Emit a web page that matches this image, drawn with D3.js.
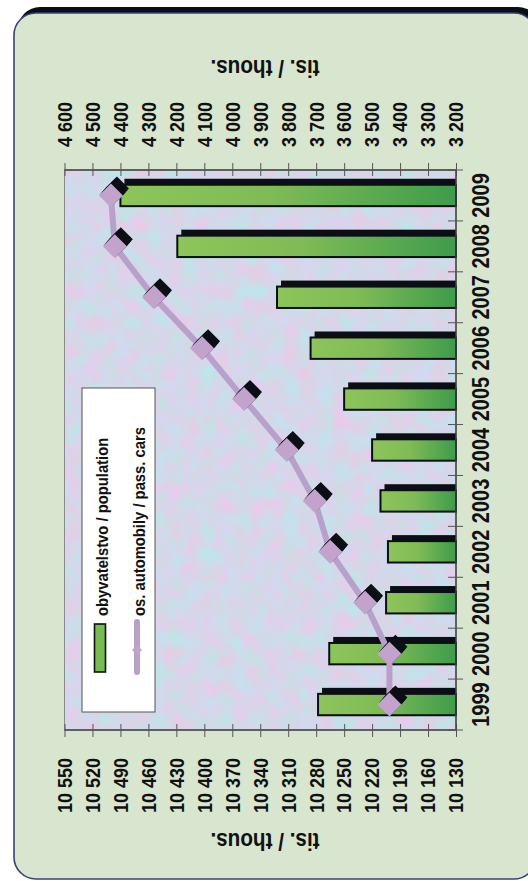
<!DOCTYPE html>
<html>
<head>
<meta charset="utf-8">
<script src="https://cdn.jsdelivr.net/npm/d3@7"></script>
<style>
  html, body { margin: 0; padding: 0; background: #ffffff; }
  svg { display: block; }
  text { font-family: "Liberation Sans", Arial, sans-serif; font-weight: bold; fill: #111; }
</style>
</head>
<body>
<script>
// ---- data ----
const years = ["1999","2000","2001","2002","2003","2004","2005","2006","2007","2008","2009"];
const population = [10278, 10266, 10205, 10203, 10211, 10220, 10250, 10286, 10322, 10429, 10490];
const cars = [3438, 3438, 3525, 3650, 3705, 3805, 3958, 4108, 4280, 4420, 4434];
const popTicks = [10130,10160,10190,10220,10250,10280,10310,10340,10370,10400,10430,10460,10490,10520,10550];
const carTicks = [3200,3300,3400,3500,3600,3700,3800,3900,4000,4100,4200,4300,4400,4500,4600];
const seriesNames = ["obyvatelstvo / population", "os. automobily / pass. cars"];
const axisTitle = "tis. / thous.";

const W = 528, H = 881;
const TS = 0.87; // horizontal text compression

const fmt = d3.formatLocale({decimal: ",", thousands: " ", grouping: [3], currency: ["", ""]}).format(",d");

const svg = d3.select("body").append("svg").attr("width", W).attr("height", H);
const defs = svg.append("defs");

// bar gradient (vertical in chart coords)
const grad = defs.append("linearGradient").attr("id", "barGrad")
  .attr("x1", 0).attr("y1", 0).attr("x2", 0).attr("y2", 1);
grad.append("stop").attr("offset", "0%").attr("stop-color", "#8dc55a");
grad.append("stop").attr("offset", "45%").attr("stop-color", "#7fbb56");
grad.append("stop").attr("offset", "100%").attr("stop-color", "#3e9c4b");

// textured plot background
const filt = defs.append("filter").attr("id", "tex")
  .attr("x", 0).attr("y", 0).attr("width", "100%").attr("height", "100%")
  .attr("color-interpolation-filters", "sRGB");
filt.append("feTurbulence").attr("type", "fractalNoise").attr("baseFrequency", "0.06")
  .attr("numOctaves", 4).attr("seed", 7).attr("result", "n");
filt.append("feColorMatrix").attr("in", "n").attr("type", "matrix")
  .attr("values", "0.16 -0.16 0 0 0.83  -0.1 0.1 0 0 0.845  0 0 0.08 0 0.875  0 0 0 0 1");

// chart drawn in landscape coords (881 x 528), rotated -90deg onto the page
const g = svg.append("g").attr("transform", `translate(0,${H}) rotate(-90)`);

// frame
g.append("rect").attr("x", 8).attr("y", 18).attr("width", 866).attr("height", 522)
  .attr("rx", 22).attr("fill", "#0b0e14");
g.append("rect").attr("x", 2).attr("y", 14).attr("width", 866).attr("height", 522)
  .attr("rx", 22).attr("fill", "#d8e6d0").attr("stroke", "#3b4277").attr("stroke-width", 1.6);

// plot geometry
const uL = 151, uR = 711, vT = 64.5, vB = 456;
const x = d3.scaleBand().domain(years).range([uL, uR]);
const yPop = d3.scaleLinear().domain([10130, 10550]).range([vB, vT]);
const yCar = d3.scaleLinear().domain([3200, 4600]).range([vB, vT]);

g.append("rect").attr("x", uL).attr("y", vT).attr("width", uR - uL).attr("height", vB - vT)
  .attr("fill", "#d2d6ea").attr("filter", "url(#tex)");
g.append("rect").attr("x", uL).attr("y", vT).attr("width", uR - uL).attr("height", vB - vT)
  .attr("fill", "none").attr("stroke", "#8a8a8a").attr("stroke-width", 1);

// bars
const bw = x.bandwidth() * 0.42;
const barG = g.append("g");
barG.selectAll("rect.sh").data(years).join("rect").attr("class", "sh")
  .attr("x", d => x(d) + (x.bandwidth() - bw) / 2 + 6)
  .attr("y", (d, i) => yPop(population[i]) + 4)
  .attr("width", bw)
  .attr("height", (d, i) => vB - yPop(population[i]) - 4)
  .attr("fill", "#0b0e14");
barG.selectAll("rect.bar").data(years).join("rect").attr("class", "bar")
  .attr("x", d => x(d) + (x.bandwidth() - bw) / 2)
  .attr("y", (d, i) => yPop(population[i]))
  .attr("width", bw)
  .attr("height", (d, i) => vB - yPop(population[i]))
  .attr("fill", "url(#barGrad)").attr("stroke", "#0b0e14").attr("stroke-width", 2);

// axes
const popAxis = g.append("g").attr("transform", `translate(${uL},0)`)
  .call(d3.axisLeft(yPop).tickValues(popTicks).tickFormat(fmt).tickSize(7));
popAxis.selectAll(".tick line").attr("x1", 6).attr("stroke", "#555");
popAxis.select(".domain").attr("stroke", "#444").attr("stroke-width", 1.5).attr("d", `M0,${vT}V${vB}`);
popAxis.selectAll(".tick text").attr("x", null).attr("dy", null)
  .attr("dominant-baseline", "central").attr("text-anchor", "end")
  .attr("transform", `translate(-28,0) scale(0.9,1)`)
  .style("font-size", "20px").attr("fill", "#111");

const carAxis = g.append("g").attr("transform", `translate(${uR},0)`)
  .call(d3.axisRight(yCar).tickValues(carTicks).tickFormat(fmt).tickSize(7));
carAxis.selectAll(".tick line").attr("x1", -6).attr("stroke", "#555");
carAxis.select(".domain").attr("stroke", "#444").attr("stroke-width", 1.5).attr("d", `M0,${vT}V${vB}`);
carAxis.selectAll(".tick text").attr("x", null).attr("dy", null)
  .attr("dominant-baseline", "central").attr("text-anchor", "start")
  .attr("transform", `translate(23,0) scale(0.9,1)`)
  .style("font-size", "20px").attr("fill", "#111");

const yearAxis = g.append("g").attr("transform", `translate(0,${vB})`)
  .call(d3.axisBottom(x).tickSize(0));
yearAxis.select(".domain").attr("stroke", "#444").attr("stroke-width", 1.5).attr("d", `M${uL},0H${uR}`);
yearAxis.selectAll(".tick text").attr("y", null).attr("dy", null)
  .attr("dominant-baseline", "central").attr("text-anchor", "middle")
  .attr("transform", `translate(0,25) scale(${TS},1)`)
  .style("font-size", "23px").attr("fill", "#111");
const bounds = years.map(d => x(d)).concat([x(years[years.length - 1]) + x.step()]);
yearAxis.selectAll("line.bt").data(bounds).join("line").attr("class", "bt")
  .attr("x1", d => d).attr("x2", d => d).attr("y1", -8).attr("y2", 7)
  .attr("stroke", "#555").attr("stroke-width", 1);
g.selectAll("g.tick text").attr("font-family", null).attr("font-size", null);
g.selectAll("g").filter(function () { return this.getAttribute("font-family"); })
  .attr("font-family", null).attr("font-size", null);

// axis titles
[[40, 265], [813, 265]].forEach(([u, v]) => {
  g.append("text").attr("transform", `translate(${u},${v}) rotate(-90) scale(0.9,1)`)
    .attr("text-anchor", "middle").attr("dominant-baseline", "central")
    .style("font-size", "23px").text(axisTitle);
});

// line + markers
const pts = years.map((d, i) => [x(d) + x.bandwidth() / 2, yCar(cars[i])]);
g.append("path").attr("d", d3.line()(pts)).attr("fill", "none")
  .attr("stroke", "#b8a0cb").attr("stroke-width", 6).attr("stroke-linejoin", "round");
const dia = "M0,-12L12,0L0,12L-12,0Z";
const steps = [0.25, 0.5, 0.75, 1];
pts.forEach(p => {
  g.selectAll(null).data(steps).join("path")
    .attr("transform", t => `translate(${p[0] + 7 * t},${p[1] + 6 * t})`)
    .attr("d", dia).attr("fill", "#0b0e14");
});
g.selectAll("path.dm").data(pts).join("path").attr("class", "dm")
  .attr("transform", d => `translate(${d[0]},${d[1]})`).attr("d", dia).attr("fill", "#c3a3cc");

// legend
const lg = g.append("g");
lg.append("rect").attr("x", 169).attr("y", 82).attr("width", 324).attr("height", 73)
  .attr("fill", "#ffffff").attr("stroke", "#555").attr("stroke-width", 1);
lg.append("rect").attr("x", 209).attr("y", 94.5).attr("width", 48).attr("height", 11)
  .attr("fill", "#78bb50").attr("stroke", "#0b0e14").attr("stroke-width", 1.6);
lg.append("line").attr("x1", 209).attr("x2", 259).attr("y1", 137).attr("y2", 137)
  .attr("stroke", "#b8a0cb").attr("stroke-width", 6).attr("stroke-linecap", "round");
lg.append("path").attr("transform", "translate(231,137)").attr("d", "M0,-5L5,0L0,5L-5,0Z").attr("fill", "#c3a3cc");
[[102, seriesNames[0]], [139, seriesNames[1]]].forEach(([v, t]) => {
  lg.append("text").attr("transform", `translate(265,${v}) scale(${TS},1)`)
    .attr("dominant-baseline", "central").style("font-size", "17px").text(t);
});
</script>
</body>
</html>
